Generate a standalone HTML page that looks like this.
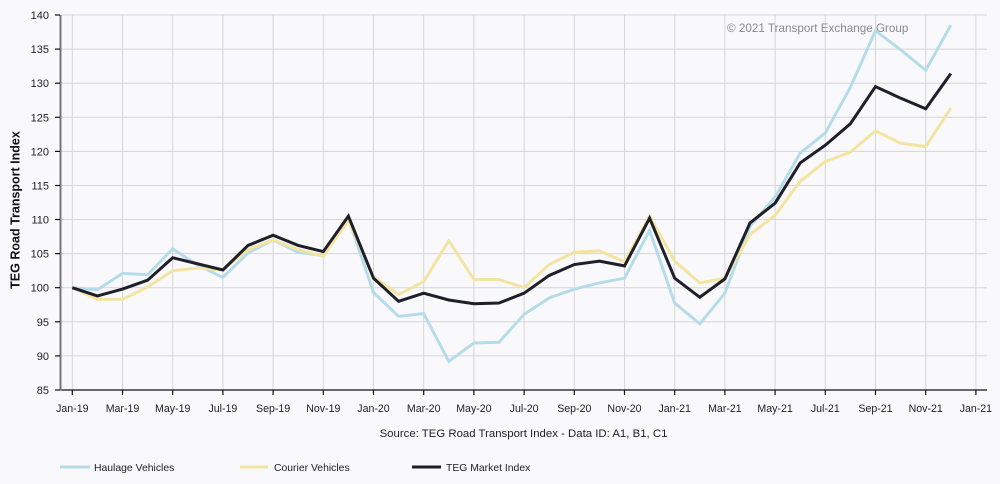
<!DOCTYPE html>
<html><head><meta charset="utf-8"><style>
html,body{margin:0;padding:0;background:#f9f9fb;}
svg{display:block;font-family:"Liberation Sans",sans-serif;}
</style></head><body>
<svg width="1000" height="484" viewBox="0 0 1000 484" xmlns="http://www.w3.org/2000/svg">
<rect width="1000" height="484" fill="#f9f9fb"/>
<g stroke="#d6d6da" stroke-width="1">
<line x1="60" y1="15" x2="987" y2="15"/><line x1="60" y1="49.1" x2="987" y2="49.1"/><line x1="60" y1="83.2" x2="987" y2="83.2"/><line x1="60" y1="117.3" x2="987" y2="117.3"/><line x1="60" y1="151.4" x2="987" y2="151.4"/><line x1="60" y1="185.5" x2="987" y2="185.5"/><line x1="60" y1="219.5" x2="987" y2="219.5"/><line x1="60" y1="253.6" x2="987" y2="253.6"/><line x1="60" y1="287.7" x2="987" y2="287.7"/><line x1="60" y1="321.8" x2="987" y2="321.8"/><line x1="60" y1="355.9" x2="987" y2="355.9"/>
<line x1="72.3" y1="15" x2="72.3" y2="390"/><line x1="122.5" y1="15" x2="122.5" y2="390"/><line x1="172.7" y1="15" x2="172.7" y2="390"/><line x1="222.9" y1="15" x2="222.9" y2="390"/><line x1="273.1" y1="15" x2="273.1" y2="390"/><line x1="323.3" y1="15" x2="323.3" y2="390"/><line x1="373.5" y1="15" x2="373.5" y2="390"/><line x1="423.7" y1="15" x2="423.7" y2="390"/><line x1="473.9" y1="15" x2="473.9" y2="390"/><line x1="524.1" y1="15" x2="524.1" y2="390"/><line x1="574.3" y1="15" x2="574.3" y2="390"/><line x1="624.5" y1="15" x2="624.5" y2="390"/><line x1="674.7" y1="15" x2="674.7" y2="390"/><line x1="724.9" y1="15" x2="724.9" y2="390"/><line x1="775.1" y1="15" x2="775.1" y2="390"/><line x1="825.3" y1="15" x2="825.3" y2="390"/><line x1="875.5" y1="15" x2="875.5" y2="390"/><line x1="925.7" y1="15" x2="925.7" y2="390"/><line x1="975.9" y1="15" x2="975.9" y2="390"/>
</g>
<!-- axes -->
<line x1="60" y1="390" x2="987" y2="390" stroke="#111" stroke-width="1.3"/>
<line x1="60.5" y1="15" x2="60.5" y2="390.5" stroke="#777" stroke-width="2"/>
<g stroke="#111" stroke-width="1.2">
<line x1="55" y1="15" x2="60" y2="15"/><line x1="55" y1="49.1" x2="60" y2="49.1"/><line x1="55" y1="83.2" x2="60" y2="83.2"/><line x1="55" y1="117.3" x2="60" y2="117.3"/><line x1="55" y1="151.4" x2="60" y2="151.4"/><line x1="55" y1="185.5" x2="60" y2="185.5"/><line x1="55" y1="219.5" x2="60" y2="219.5"/><line x1="55" y1="253.6" x2="60" y2="253.6"/><line x1="55" y1="287.7" x2="60" y2="287.7"/><line x1="55" y1="321.8" x2="60" y2="321.8"/><line x1="55" y1="355.9" x2="60" y2="355.9"/><line x1="55" y1="390" x2="60" y2="390"/>
<line x1="72.3" y1="390" x2="72.3" y2="395"/><line x1="122.5" y1="390" x2="122.5" y2="395"/><line x1="172.7" y1="390" x2="172.7" y2="395"/><line x1="222.9" y1="390" x2="222.9" y2="395"/><line x1="273.1" y1="390" x2="273.1" y2="395"/><line x1="323.3" y1="390" x2="323.3" y2="395"/><line x1="373.5" y1="390" x2="373.5" y2="395"/><line x1="423.7" y1="390" x2="423.7" y2="395"/><line x1="473.9" y1="390" x2="473.9" y2="395"/><line x1="524.1" y1="390" x2="524.1" y2="395"/><line x1="574.3" y1="390" x2="574.3" y2="395"/><line x1="624.5" y1="390" x2="624.5" y2="395"/><line x1="674.7" y1="390" x2="674.7" y2="395"/><line x1="724.9" y1="390" x2="724.9" y2="395"/><line x1="775.1" y1="390" x2="775.1" y2="395"/><line x1="825.3" y1="390" x2="825.3" y2="395"/><line x1="875.5" y1="390" x2="875.5" y2="395"/><line x1="925.7" y1="390" x2="925.7" y2="395"/><line x1="975.9" y1="390" x2="975.9" y2="395"/>
</g>
<!-- y labels -->
<g font-size="11" fill="#222" text-anchor="end">
<text x="49" y="19">140</text><text x="49" y="53.1">135</text><text x="49" y="87.2">130</text><text x="49" y="121.3">125</text><text x="49" y="155.4">120</text><text x="49" y="189.5">115</text><text x="49" y="223.5">110</text><text x="49" y="257.6">105</text><text x="49" y="291.7">100</text><text x="49" y="325.8">95</text><text x="49" y="359.9">90</text><text x="49" y="394">85</text>
</g>
<!-- x labels -->
<g font-size="10.6" fill="#222" text-anchor="middle">
<text x="72.3" y="412">Jan-19</text><text x="122.5" y="412">Mar-19</text><text x="172.7" y="412">May-19</text><text x="222.9" y="412">Jul-19</text><text x="273.1" y="412">Sep-19</text><text x="323.3" y="412">Nov-19</text><text x="373.5" y="412">Jan-20</text><text x="423.7" y="412">Mar-20</text><text x="473.9" y="412">May-20</text><text x="524.1" y="412">Jul-20</text><text x="574.3" y="412">Sep-20</text><text x="624.5" y="412">Nov-20</text><text x="674.7" y="412">Jan-21</text><text x="724.9" y="412">Mar-21</text><text x="775.1" y="412">May-21</text><text x="825.3" y="412">Jul-21</text><text x="875.5" y="412">Sep-21</text><text x="925.7" y="412">Nov-21</text><text x="975.9" y="412">Jan-21</text>
</g>
<text transform="translate(19.5,210) rotate(-90)" font-size="12.5" font-weight="bold" fill="#111" text-anchor="middle">TEG Road Transport Index</text>
<text x="523.5" y="437" font-size="11.4" fill="#222" text-anchor="middle">Source: TEG Road Transport Index - Data ID: A1, B1, C1</text>
<text x="727" y="32" font-size="11.7" fill="#8a8a8e">© 2021 Transport Exchange Group</text>
<!-- series -->
<g transform="matrix(25.1 0 0 -6.818 72.3 969.52)" fill="none" stroke-width="3" vector-effect="non-scaling-stroke">
<polyline vector-effect="non-scaling-stroke" stroke="#b6dcea" stroke-width="3" points="0,100 1,99.7 2,102.1 3,101.9 4,105.7 5,103.3 6,101.5 7,105.1 8,107.0 9,105.2 10,104.7 11,110.2 12,99.3 13,95.8 14,96.2 15,89.2 16,91.9 17,92.0 18,96.1 19,98.5 20,99.8 21,100.7 22,101.4 23,108.4 24,97.75 25,94.7 26,99.2 27,109.0 28,113.3 29,119.75 30,122.7 31,129.4 32,137.7 33,134.9 34,131.9 35,138.5"/>
<polyline vector-effect="non-scaling-stroke" stroke="#f3e4a2" stroke-width="3" points="0,100 1,98.3 2,98.3 3,100.1 4,102.5 5,102.9 6,102.6 7,105.6 8,107.0 9,105.6 10,104.6 11,109.9 12,101.6 13,99.0 14,100.9 15,106.9 16,101.2 17,101.2 18,100.0 19,103.4 20,105.2 21,105.4 22,103.8 23,110.5 24,103.9 25,100.7 26,101.4 27,107.8 28,110.6 29,115.6 30,118.5 31,119.9 32,123.0 33,121.2 34,120.7 35,126.35"/>
<polyline vector-effect="non-scaling-stroke" stroke="#1f1f2a" stroke-width="3" points="0,100 1,98.8 2,99.8 3,101.1 4,104.4 5,103.5 6,102.6 7,106.2 8,107.7 9,106.2 10,105.3 11,110.5 12,101.4 13,98.0 14,99.2 15,98.2 16,97.65 17,97.75 18,99.2 19,101.8 20,103.4 21,103.9 22,103.2 23,110.2 24,101.4 25,98.6 26,101.3 27,109.5 28,112.4 29,118.3 30,120.9 31,124.05 32,129.5 33,127.8 34,126.25 35,131.4"/>
</g>
<!-- legend -->
<line x1="60" y1="467" x2="90" y2="467" stroke="#b6dcea" stroke-width="3"/>
<text x="94" y="471" font-size="10.4" fill="#222">Haulage Vehicles</text>
<line x1="240" y1="467" x2="268" y2="467" stroke="#f3e4a2" stroke-width="3"/>
<text x="274" y="471" font-size="10.4" fill="#222">Courier Vehicles</text>
<line x1="412" y1="467" x2="441" y2="467" stroke="#1f1f2a" stroke-width="3"/>
<text x="446" y="471" font-size="10.4" fill="#222">TEG Market Index</text>
</svg>
</body></html>
